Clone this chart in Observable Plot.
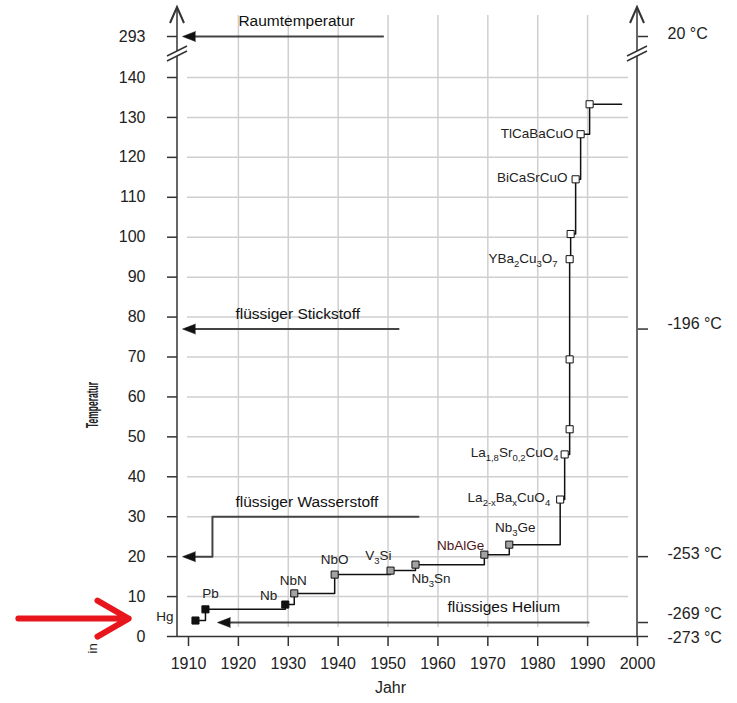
<!DOCTYPE html>
<html><head><meta charset="utf-8">
<script src="https://cdn.jsdelivr.net/npm/d3@7"></script>
<script src="https://cdn.jsdelivr.net/npm/@observablehq/plot@0.6"></script>
<style>body{margin:0;background:#fff;} svg{display:block}</style>
</head><body>
<script>
// ---------- data ----------
const labels = ["Hg","Pb","Nb","NbN","NbO","V_3Si","Nb_3Sn","NbAlGe","Nb_3Ge",
  "La_{2-x}Ba_xCuO_4","La_{1,8}Sr_{0,2}CuO_4","","","YBa_2Cu_3O_7","","BiCaSrCuO","TlCaBaCuO",""];
const years = [1911.4,1913.4,1929.4,1931.2,1939.3,1950.5,1955.5,1969.3,1974.3,
  1984.5,1985.4,1986.4,1986.4,1986.4,1986.6,1987.6,1988.6,1990.4];
const tc = [4.0,6.8,8.0,10.8,15.5,16.5,18.0,20.5,23.0,
  34.3,45.6,51.9,69.4,94.5,100.8,114.5,125.8,133.3];
const era = ["element","element","element","compound","compound","compound","compound","compound","compound",
  "cuprate","cuprate","cuprate","cuprate","cuprate","cuprate","cuprate","cuprate","cuprate"];
const recordLineEnd = 1996.8;

const refLabels = ["Raumtemperatur","flüssiger Stickstoff","flüssiger Wasserstoff","flüssiges Helium"];
const refTemps = [293, 77, 20, 3.5];
const refLineFrom = [1949, 1952.1, 1956.1, 1990.2];
const refArrowTip = [1908.8, 1908.8, 1908.8, 1915.8];
const refLabelYear = [1920, 1919.4, 1919.4, 1961.9];
const refLabelTemp = [293, 77, 30, 3.5];
const h2LabelTemp = 30, h2StepYear = 1914.8;

const xTicks = d3.range(1910, 2001, 10);
const yTicks = [...d3.range(0, 141, 10), 293];
const gridYears = d3.range(1920, 1991, 10);
const gridTemps = d3.range(10, 141, 10);
const rightTicks = [293, 77, 20, 3.5, 0];
const rightTickLabels = ["20 °C","-196 °C","-253 °C","-269 °C","-273 °C"];

const pointerYears = [1875.9, 1898.0];
const pointerTemp = 4.5;

// ---------- layout / style ----------
const W = 737, H = 703;
const M = {top: 7, right: 100, bottom: 67, left: 177};
const placement = {
  "Hg": ["end",-22,-4], "Pb": ["middle",5,-16], "Nb": ["end",-8,-9],
  "NbN": ["middle",-1,-13], "NbO": ["middle",0,-15], "V_3Si": ["end",1,-15],
  "Nb_3Sn": ["start",-4,14], "NbAlGe": ["end",0,-9], "Nb_3Ge": ["middle",6,-17],
  "La_{2-x}Ba_xCuO_4": ["end",-10,-2], "La_{1,8}Sr_{0,2}CuO_4": ["end",-6,-2],
  "YBa_2Cu_3O_7": ["end",-12,-1], "BiCaSrCuO": ["end",-8,-2], "TlCaBaCuO": ["end",-7,-1]
};
// vertical nudge of each right-hand label relative to its tick
const rightLabelDy = {"20 °C": -3, "-196 °C": -5, "-253 °C": -3, "-269 °C": -9, "-273 °C": 1};

const pts = years.map((x, i) => ({x, y: tc[i], label: labels[i], era: era[i]}));
const stepPts = [...pts, {x: recordLineEnd, y: tc[tc.length - 1]}];

const refPaths = [];
refLabels.forEach((name, i) => {
  if (i === 2) {
    refPaths.push({r: i, x: refLineFrom[i], y: h2LabelTemp}, {r: i, x: h2StepYear, y: h2LabelTemp},
                  {r: i, x: h2StepYear, y: refTemps[i]}, {r: i, x: refArrowTip[i] + 1, y: refTemps[i]});
  } else {
    refPaths.push({r: i, x: refLineFrom[i], y: refTemps[i]}, {r: i, x: refArrowTip[i] + 1, y: refTemps[i]});
  }
});
const refIdx = d3.range(refLabels.length);

const labelMarks = pts.filter(d => d.label).map(d => {
  const [anchor, dx, dy] = placement[d.label];
  return Plot.text([d], {x: "x", y: "y", text: "label", textAnchor: anchor, dx, dy,
    fontSize: 13.5, fill: d.label === "NbAlGe" ? "#4d1616" : "#222", className: "formula"});
});

const rightLabelMarks = rightTicks.map((t, i) => Plot.text([t], {
  frameAnchor: "right", y: d => d, text: () => rightTickLabels[i], textAnchor: "start",
  dx: 30, dy: rightLabelDy[rightTickLabels[i]], fontSize: 16, fill: "#222"}));

const chart = Plot.plot({
  width: W, height: H,
  marginTop: M.top, marginRight: M.right, marginBottom: M.bottom, marginLeft: M.left,
  style: {fontFamily: "'Liberation Sans', Arial, sans-serif", color: "#222", background: "#fff", overflow: "visible"},
  x: {type: "linear", domain: [1910, 2000], range: [188, 637], axis: null},
  y: {type: "linear", domain: [0, 140, 293], range: [636, 77, 36], axis: null},
  color: {domain: ["element","compound","cuprate"], range: ["#111","#a3a3a3","#fff"]},
  marks: [
    Plot.ruleX(gridYears, {stroke: "#cfcfcf", strokeWidth: 1.5, insetTop: 8, insetBottom: 9}),
    Plot.ruleY(gridTemps, {stroke: "#cfcfcf", strokeWidth: 1.5, insetLeft: 10, insetRight: 9}),
    Plot.ruleY([0], {stroke: "#333", strokeWidth: 1.5}),
    Plot.axisX(xTicks, {anchor: "bottom", tickSize: 10, tickPadding: 11, fontSize: 16,
      tickFormat: d => String(d), stroke: "#333", strokeWidth: 1.5, label: null}),
    Plot.axisY(yTicks, {anchor: "left", tickSize: 10, tickPadding: 22, fontSize: 16,
      tickFormat: d => String(d), stroke: "#333", strokeWidth: 1.5, label: null}),
    Plot.axisY(rightTicks, {anchor: "right", tickSize: 10, tickFormat: () => "",
      stroke: "#333", strokeWidth: 1.5, label: null}),
    ...rightLabelMarks,
    // reference temperature arrows
    Plot.line(refPaths, {x: "x", y: "y", z: "r", stroke: "#444", strokeWidth: 2}),
    Plot.vector(refIdx, {x: i => refArrowTip[i], y: i => refTemps[i], rotate: -90, length: 13, r: 5,
      shape: "spike", anchor: "end", fill: "#111", stroke: "#111", strokeWidth: 0.5}),
    Plot.text(refIdx, {x: i => refLabelYear[i], y: i => refLabelTemp[i], text: i => refLabels[i],
      textAnchor: "start", dy: -15, fontSize: 15.5, fill: "#111"}),
    // record step line
    Plot.line(stepPts, {x: "x", y: "y", curve: "step-after", stroke: "#111", strokeWidth: 1.5}),
    Plot.dot(pts, {x: "x", y: "y", symbol: "square", r: 4, fill: "era", stroke: "#111", strokeWidth: 1}),
    ...labelMarks,
    // axis titles
    Plot.text(["Jahr"], {frameAnchor: "bottom", dx: -17, dy: 56, fontSize: 16, fill: "#222"}),
    Plot.text(["Temperatur"], {frameAnchor: "left", dx: -85, dy: 106, rotate: -90, textAnchor: "start",
      fontSize: 17, fontWeight: "bold", fill: "#222", className: "ylab"}),
    Plot.text(["in"], {frameAnchor: "bottom-left", dx: -81, dy: 17, rotate: -90, fontSize: 13, fill: "#222"}),
    // red pointer
    Plot.arrow([0], {x1: () => pointerYears[0], x2: () => pointerYears[1], y1: () => pointerTemp, y2: () => pointerTemp,
      stroke: "#e8161c", strokeWidth: 6, headLength: 9, strokeLinecap: "round", strokeLinejoin: "round"})
  ]
});

document.body.appendChild(chart);

// ---------- post-processing: subscripts ----------
d3.select(chart).selectAll(".formula text").each(function() {
  const s = this.textContent;
  const el = d3.select(this);
  el.text("");
  const re = /_(\{([^}]*)\}|(.))/g;
  let last = 0, m, cur = 0;
  const add = (t, sub) => {
    if (!t) return;
    const target = sub ? 4.5 : 0;
    const ts = el.append("tspan").text(t);
    if (target !== cur) ts.attr("dy", target - cur);
    if (sub) ts.attr("font-size", 9.5);
    cur = target;
  };
  while ((m = re.exec(s))) {
    add(s.slice(last, m.index), false);
    add(m[2] !== undefined ? m[2] : m[3], true);
    last = re.lastIndex;
  }
  add(s.slice(last), false);
});
d3.select(chart).selectAll(".ylab text").attr("textLength", 46).attr("lengthAdjust", "spacingAndGlyphs");

// ---------- axis lines, arrowheads and break marks ----------
const ys = chart.scale("y");
const svg = d3.select(chart);
const g = svg.append("g").attr("fill", "none").attr("stroke", "#333").attr("stroke-width", 1.5);
const topY = M.top, botY = H - M.bottom;
const yb = (ys.apply(140) + ys.apply(293)) / 2 - 2.5;
[M.left, W - M.right].forEach(x => {
  g.append("line").attr("x1", x).attr("x2", x).attr("y1", topY + 1).attr("y2", botY);
  g.append("path").attr("stroke-width", 2).attr("d", `M${x-7},${topY+16}L${x},${topY}L${x+7},${topY+16}`);
  g.append("path").attr("fill", "#fff").attr("stroke", "none")
    .attr("d", `M${x-10},${yb+2}L${x+10},${yb-8}L${x+10},${yb-3}L${x-10},${yb+7}Z`);
  g.append("path").attr("d", `M${x-10},${yb+2}L${x+10},${yb-8}`);
  g.append("path").attr("d", `M${x-10},${yb+7}L${x+10},${yb-3}`);
});
</script>
</body></html>
